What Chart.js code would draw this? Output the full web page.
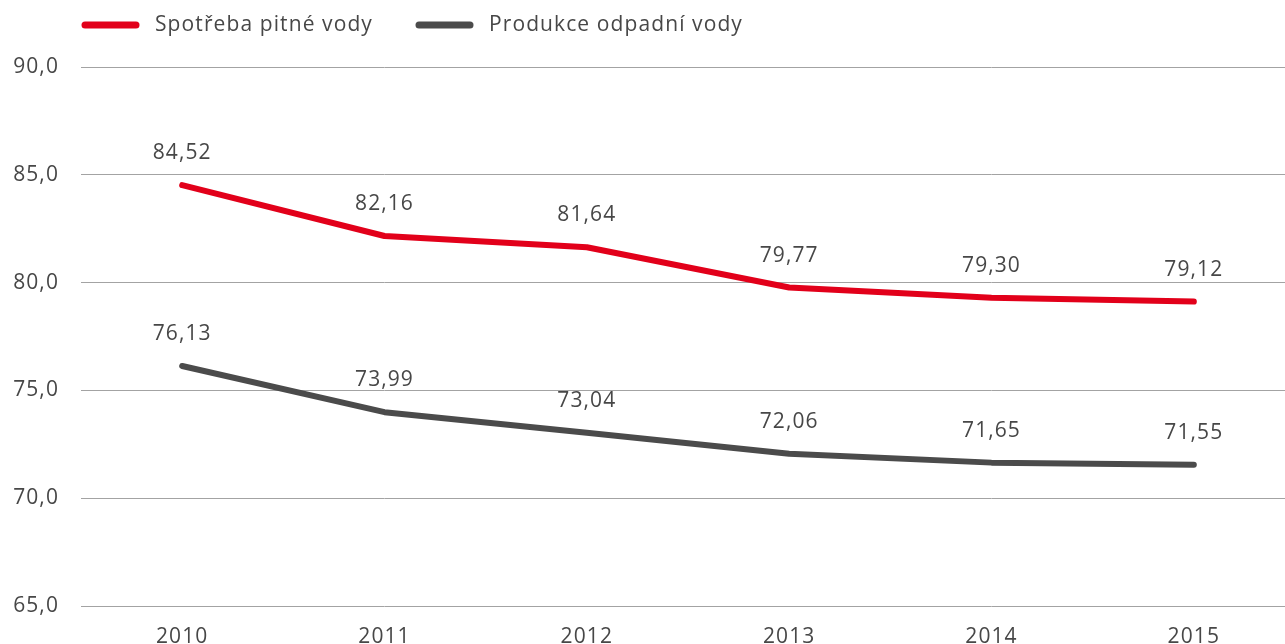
<!DOCTYPE html>
<html>
<head>
<meta charset="utf-8">
<script src="https://cdn.jsdelivr.net/npm/chart.js@4.4.0/dist/chart.umd.min.js"></script>
<style>
  html, body { margin: 0; padding: 0; overflow: hidden; background: #fff; }
</style>
</head>
<body>
<canvas id="chart" width="1295" height="670"></canvas>
<script>
const years = ["2010", "2011", "2012", "2013", "2014", "2015"];
const spotrebaPitne = [84.52, 82.16, 81.64, 79.77, 79.30, 79.12];
const produkceOdpadni = [76.13, 73.99, 73.04, 72.06, 71.65, 71.55];
const seriesNames = ["Spotřeba pitné vody", "Produkce odpadní vody"];
const yMin = 65, yMax = 90, yStep = 5;

const FONT = "'Open Sans', sans-serif";
const FSIZE = 21;
const LS = "1.1px";
const TEXT = "#474747";
const RED = "#e2001a";
const DARK = "#4b4b4b";

const czNum = (v, d) => v.toFixed(d).replace(".", ",");

// sirsi pismo, aby sedelo s originalem (canvas se po resize resetuje, proto az tady)
const spacing = {
  id: "spacing",
  beforeDraw(chart) { chart.ctx.letterSpacing = LS; }
};

// legenda nahore
const legendLines = {
  id: "legendLines",
  afterDraw(chart) {
    const ctx = chart.ctx;
    const starts = [82, 416];
    ctx.save();
    ctx.letterSpacing = LS;
    chart.data.datasets.forEach((ds, i) => {
      const x = starts[i];
      ctx.strokeStyle = ds.borderColor;
      ctx.lineWidth = 7;
      ctx.lineCap = "round";
      ctx.beginPath();
      ctx.moveTo(x + 3, 25);
      ctx.lineTo(x + 54, 25);
      ctx.stroke();
      ctx.fillStyle = TEXT;
      ctx.font = FSIZE + "px " + FONT;
      ctx.textBaseline = "middle";
      ctx.textAlign = "left";
      ctx.fillText(ds.label, x + 73, 25);
    });
    ctx.restore();
  }
};

// popisky hodnot nad body
const valueLabels = {
  id: "valueLabels",
  afterDatasetsDraw(chart) {
    const ctx = chart.ctx;
    ctx.save();
    ctx.letterSpacing = LS;
    ctx.fillStyle = TEXT;
    ctx.font = FSIZE + "px " + FONT;
    ctx.textAlign = "center";
    ctx.textBaseline = "middle";
    chart.data.datasets.forEach((ds, i) => {
      chart.getDatasetMeta(i).data.forEach((pt, j) => {
        ctx.fillText(czNum(ds.data[j], 2), pt.x, pt.y - 32);
      });
    });
    ctx.restore();
  }
};

new Chart(document.getElementById("chart"), {
  type: "line",
  data: {
    labels: years,
    datasets: [
      { label: seriesNames[0], data: spotrebaPitne, borderColor: RED, backgroundColor: RED },
      { label: seriesNames[1], data: produkceOdpadni, borderColor: DARK, backgroundColor: DARK }
    ]
  },
  options: {
    responsive: false,
    animation: false,
    layout: { padding: { top: 67, left: 0, right: 0, bottom: 0 } },
    elements: {
      line: { borderWidth: 6, tension: 0, borderCapStyle: "round", borderJoinStyle: "round" },
      point: { radius: 0, hoverRadius: 0 }
    },
    plugins: { legend: { display: false }, tooltip: { enabled: false } },
    scales: {
      x: {
        offset: true,
        grid: { display: false },
        border: { display: false },
        ticks: { color: TEXT, font: { family: FONT, size: FSIZE }, padding: 10, maxRotation: 0 },
        afterFit: s => { s.height = 64; }
      },
      y: {
        min: yMin, max: yMax,
        grid: { color: "#a3a3a3", lineWidth: 1, drawTicks: false },
        border: { display: false },
        ticks: {
          stepSize: yStep, color: TEXT, font: { family: FONT, size: FSIZE }, padding: 22,
          callback: v => czNum(v, 1)
        },
        afterFit: s => { s.width = 81; }
      }
    }
  },
  plugins: [spacing, legendLines, valueLabels]
});
</script>
</body>
</html>
